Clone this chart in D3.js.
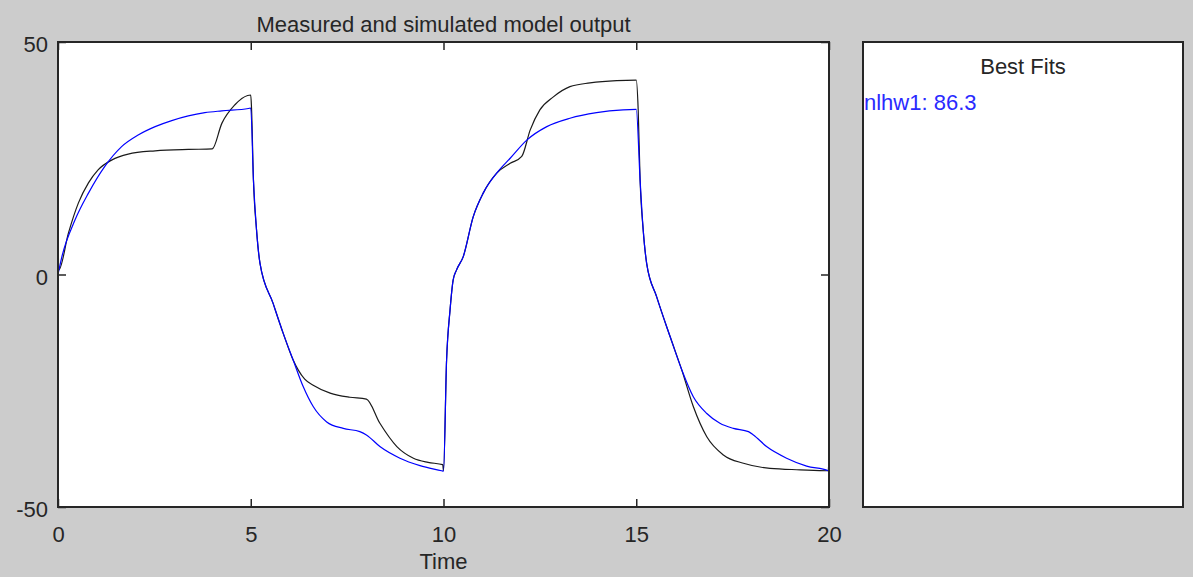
<!DOCTYPE html>
<html lang="en">
<head>
  <meta charset="UTF-8">
  <title>Measured and simulated model output</title>
  <style>
    body { margin: 0; background: #cccccc; }
    text {
      font-family: "Liberation Sans", Arial, sans-serif;
      font-size: 22px;
      fill: #262626;
    }
    .axis path { display: none; }
    .axis line { stroke: #262626; stroke-width: 1.5px; }
    .frame { fill: #ffffff; stroke: #262626; stroke-width: 2px; }
  </style>
</head>
<body>
  <svg width="1193" height="577"></svg>

  <script src="https://d3js.org/d3.v7.min.js"></script>
  <script>
    // measured output (black), [time, value]
    var measured = [
      [0, 10], [0.02, 1], [0.27, 8.9], [0.53, 15.4], [0.79, 19.7], [1.04, 22.5],
      [1.39, 24.6], [1.82, 25.9], [2.52, 26.6], [3.38, 26.9], [4.0, 27.0],
      [4.25, 32.5], [4.59, 36.5], [4.92, 38.5], [5.0, 38.6], [5.02, 35.8],
      [5.07, 20.3], [5.15, 9.6], [5.24, 2.4], [5.58, -6.2], [5.84, -12.6],
      [6.1, -18.4], [6.23, -20.5], [6.4, -22.5], [6.62, -23.8], [7.06, -25.5],
      [7.57, -26.4], [8.0, -26.8], [8.35, -32.0], [8.79, -37.0], [9.22, -39.5],
      [9.6, -40.4], [9.98, -40.9], [10.0, -42.2], [10.08, -18.4], [10.17, -7.6],
      [10.25, -1.2], [10.34, 1], [10.51, 3.8], [10.77, 12.4], [11.03, 17.5],
      [11.38, 21.8], [11.73, 23.9], [12.03, 25.4], [12.25, 31.1], [12.5, 35.4],
      [12.85, 38.2], [13.28, 40.4], [13.8, 41.2], [14.49, 41.7], [15.0, 41.8],
      [15.05, 35.5], [15.1, 20.3], [15.18, 9.6], [15.27, 2.4], [15.53, -4.8],
      [15.88, -13.4], [16.18, -20.5], [16.48, -28.4], [16.83, -34.9],
      [17.26, -38.8], [17.78, -40.6], [18.47, -41.7], [19.25, -42.0],
      [19.98, -42.2], [20, -38.8]
    ];

    // simulated output of nlhw1 (blue), [time, value]
    var simulated = [
      [0, 0], [0.1, 3.8], [0.44, 11.7], [0.79, 17.5], [1.21, 23.2], [1.65, 27.5],
      [2.08, 30.0], [2.52, 31.8], [2.95, 33.1], [3.38, 34.1], [3.81, 34.8],
      [4.25, 35.2], [4.94, 35.7], [5.0, 35.8], [5.07, 20.3], [5.15, 9.6],
      [5.24, 2.4], [5.58, -6.2], [5.84, -12.6], [6.1, -18.4], [6.36, -24.1],
      [6.62, -28.4], [6.97, -31.7], [7.4, -33.1], [7.83, -33.8], [8.0, -34.5],
      [8.35, -37.0], [8.87, -39.5], [9.39, -41.1], [9.95, -42.2], [10.0, -42.3],
      [10.08, -18.4], [10.17, -7.6], [10.25, -1.2], [10.34, 1], [10.51, 3.8],
      [10.77, 12.4], [11.03, 17.5], [11.38, 21.8], [11.73, 25], [12.16, 28.9],
      [12.68, 31.8], [13.28, 33.6], [13.97, 34.8], [14.66, 35.4], [15.0, 35.5],
      [15.1, 20.3], [15.18, 9.6], [15.27, 2.4], [15.53, -4.8], [15.88, -13.4],
      [16.18, -20.5], [16.48, -26.3], [16.83, -29.9], [17.17, -32.0],
      [17.52, -33.1], [17.91, -33.8], [18.04, -34.5], [18.38, -37.0],
      [18.9, -39.5], [19.42, -41.2], [19.98, -42.2], [20, -42.3]
    ];

    var xTicks = [0, 5, 10, 15, 20];
    var yTicks = [-50, 0, 50];
    var fits = ["nlhw1: 86.3"];

    var svg = d3.select("svg");

    var mLeft = 58, mRight = 829, mTop = 42, mBottom = 507;

    var x = d3.scaleLinear().domain([0, 20]).range([mLeft, mRight]);
    var y = d3.scaleLinear().domain([-50, 50]).range([mBottom, mTop]);
    var plain = function(d) { return String(d); };

    svg.append("rect")
        .attr("class", "frame")
        .attr("x", mLeft).attr("y", mTop)
        .attr("width", mRight - mLeft).attr("height", mBottom - mTop);

    // data lines, clipped to plot box
    svg.append("clipPath").attr("id", "clip")
      .append("rect")
        .attr("x", mLeft - 3).attr("y", mTop)
        .attr("width", mRight - mLeft + 5).attr("height", mBottom - mTop);

    var line = d3.line()
        .curve(d3.curveMonotoneX)
        .x(function(d) { return x(d[0]); })
        .y(function(d) { return y(d[1]); });

    var plot = svg.append("g").attr("clip-path", "url(#clip)");

    plot.append("path")
        .datum(measured)
        .attr("d", line)
        .attr("fill", "none")
        .attr("stroke", "#1a1a1a")
        .attr("stroke-width", 1.2);

    plot.append("path")
        .datum(simulated)
        .attr("d", line)
        .attr("fill", "none")
        .attr("stroke", "#0000ff")
        .attr("stroke-width", 1.2);

    // axes with inward ticks on all four sides
    svg.append("g")
        .attr("class", "axis")
        .attr("transform", "translate(0," + mBottom + ")")
        .call(d3.axisBottom(x).tickValues(xTicks).tickFormat(plain)
          .tickSizeInner(-8).tickSizeOuter(0).tickPadding(19))
      .selectAll("text")
        .attr("fill", "#262626").style("font-size", "22px");

    svg.append("g")
        .attr("class", "axis")
        .attr("transform", "translate(0," + mTop + ")")
        .call(d3.axisTop(x).tickValues(xTicks).tickSizeInner(-8).tickSizeOuter(0).tickFormat(""));

    svg.append("g")
        .attr("class", "axis")
        .attr("transform", "translate(" + mLeft + ",0)")
        .call(d3.axisLeft(y).tickValues(yTicks).tickFormat(plain)
          .tickSizeInner(-8).tickSizeOuter(0).tickPadding(10))
      .selectAll("text")
        .attr("dy", "0.45em")
        .attr("fill", "#262626").style("font-size", "22px");

    svg.append("g")
        .attr("class", "axis")
        .attr("transform", "translate(" + mRight + ",0)")
        .call(d3.axisRight(y).tickValues(yTicks).tickSizeInner(-8).tickSizeOuter(0).tickFormat(""));

    // redraw frame border over tick marks
    svg.append("rect")
        .attr("x", mLeft).attr("y", mTop)
        .attr("width", mRight - mLeft).attr("height", mBottom - mTop)
        .attr("fill", "none").attr("stroke", "#262626").attr("stroke-width", 2);

    svg.append("text")
        .attr("x", (mLeft + mRight) / 2).attr("y", 32)
        .attr("text-anchor", "middle")
        .text("Measured and simulated model output");

    svg.append("text")
        .attr("x", (mLeft + mRight) / 2).attr("y", 569)
        .attr("text-anchor", "middle")
        .text("Time");

    // best fits panel
    var pLeft = 863, pRight = 1183;
    svg.append("rect")
        .attr("class", "frame")
        .attr("x", pLeft).attr("y", mTop)
        .attr("width", pRight - pLeft).attr("height", mBottom - mTop);

    svg.append("text")
        .attr("x", (pLeft + pRight) / 2).attr("y", 74)
        .attr("text-anchor", "middle")
        .text("Best Fits");

    svg.selectAll(".fit")
        .data(fits)
        .enter().append("text")
        .attr("class", "fit")
        .attr("x", pLeft + 1)
        .attr("y", function(d, i) { return 110 + i * 26; })
        .style("fill", "#2a2aff")
        .text(function(d) { return d; });
  </script>
</body>
</html>
